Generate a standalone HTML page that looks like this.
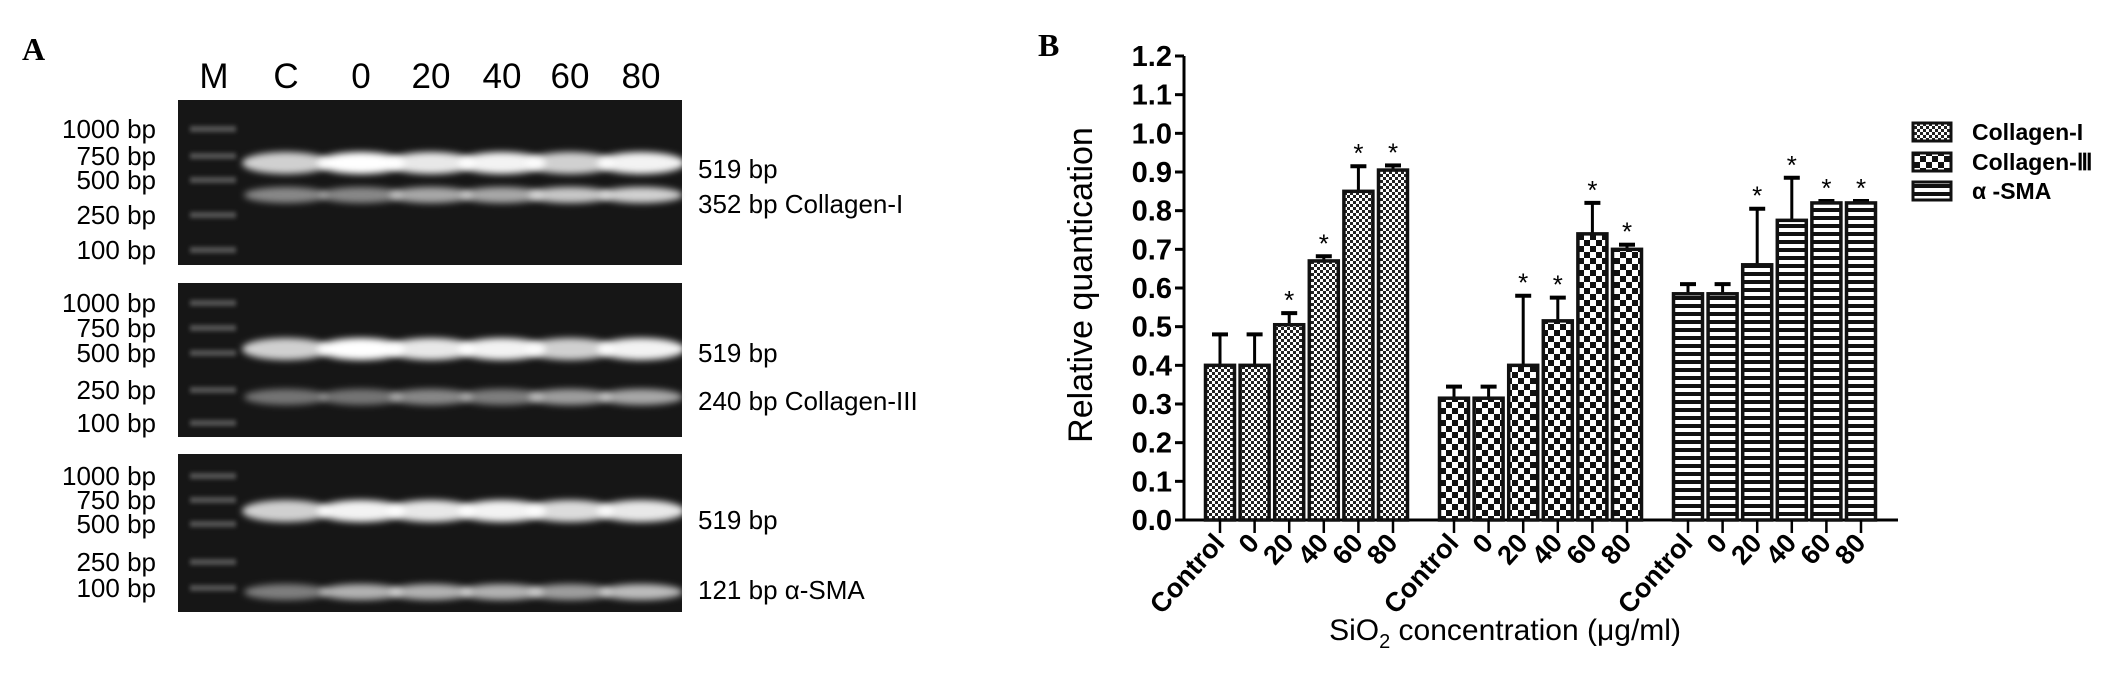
<!DOCTYPE html>
<html><head><meta charset="utf-8">
<style>
html,body{margin:0;padding:0;background:#fff;}
body{width:2126px;height:688px;overflow:hidden;position:relative;font-family:"Liberation Sans",sans-serif;}
</style></head>
<body>
<svg id="fig" width="2126" height="688" viewBox="0 0 2126 688" xmlns="http://www.w3.org/2000/svg">
<defs>
<pattern id="p1" width="6" height="6" patternUnits="userSpaceOnUse"><rect width="6" height="6" fill="#fff"/><rect width="3" height="3" fill="#222"/><rect x="3" y="3" width="3" height="3" fill="#222"/></pattern>
<pattern id="p2" width="12" height="12" patternUnits="userSpaceOnUse"><rect width="12" height="12" fill="#fff"/><rect width="6" height="6" fill="#111"/><rect x="6" y="6" width="6" height="6" fill="#111"/></pattern>
<pattern id="p3" width="8" height="8" patternUnits="userSpaceOnUse"><rect width="8" height="8" fill="#fff"/><rect width="8" height="4" fill="#111"/></pattern>
<filter id="blur" x="-30%" y="-80%" width="160%" height="260%"><feGaussianBlur stdDeviation="3.5"/></filter>
<filter id="blur2" x="-30%" y="-80%" width="160%" height="260%"><feGaussianBlur stdDeviation="2"/></filter>
</defs>
<g id="panelA"></g>
<g id="panelB"></g>
</svg>
<script>
const NS="http://www.w3.org/2000/svg";
function mk(parent,tag,attrs,text){const e=document.createElementNS(NS,tag);for(const k in attrs)e.setAttribute(k,attrs[k]);if(text!==undefined)e.textContent=text;parent.appendChild(e);return e;}

/* ---------- Panel A: gels ---------- */
const A=document.getElementById('panelA');
const laneNames=["M","C","0","20","40","60","80"];
const laneX=[214,286,361,431,502,570,641];
const markerLabels=["1000 bp","750 bp","500 bp","250 bp","100 bp"];
const gels=[
 {top:100,bot:265,ladderY:[129,156,180,215,250],up:163,low:195,lowInt:[0.55,0.55,0.7,0.7,0.85,0.9],upInt:[0.8,1,0.9,0.95,0.8,0.95],r1:"519 bp",r2:"352 bp Collagen-I",r1y:169,r2y:204},
 {top:283,bot:437,ladderY:[303,328,353,390,423],up:349,low:397,lowInt:[0.45,0.45,0.55,0.5,0.65,0.7],upInt:[0.8,1,0.9,0.95,0.8,0.95],r1:"519 bp",r2:"240 bp Collagen-III",r1y:353,r2y:401},
 {top:454,bot:612,ladderY:[476,500,524,562,588],up:511,low:592,lowInt:[0.5,0.75,0.75,0.75,0.65,0.8],upInt:[0.8,0.95,0.9,0.95,0.85,0.9],r1:"519 bp",r2:"121 bp α-SMA",r1y:520,r2y:590}
];
let t=mk(A,'text',{x:22,y:60,'font-family':'Liberation Serif','font-weight':'bold','font-size':32});t.textContent="A";

laneNames.forEach((n,i)=>{const e=mk(A,'text',{x:laneX[i],y:88,'text-anchor':'middle','font-size':35},n);
 
 });
gels.forEach((g,gi)=>{
 const grp=mk(A,'g',{});
 
 
 mk(grp,'rect',{x:178,y:g.top,width:504,height:g.bot-g.top,fill:'#161616'});
 g.ladderY.forEach(y=>mk(grp,'rect',{x:190,y:y-3,width:46,height:6,fill:'#555',filter:'url(#blur2)'}));
 for(let i=1;i<7;i++){
  mk(grp,'ellipse',{cx:laneX[i],cy:g.up,rx:44,ry:11,fill:`rgba(255,255,255,${g.upInt[i-1]})`,filter:'url(#blur)'});
  mk(grp,'ellipse',{cx:laneX[i],cy:g.low,rx:42,ry:8,fill:`rgba(230,230,230,${g.lowInt[i-1]})`,filter:'url(#blur)'});
 }
 g.ladderY.forEach((y,k)=>{const e=mk(A,'text',{x:156,y:y+9,'text-anchor':'end','font-size':26},markerLabels[k]);
  
  });
 const a=mk(A,'text',{x:698,y:g.r1y+9,'font-size':26},g.r1);
 
 
 const b=mk(A,'text',{x:698,y:g.r2y+9,'font-size':26},g.r2);
 
 
});

/* ---------- Panel B: bar chart ---------- */
const categories=["Control","0","20","40","60","80"];
const seriesNames=["Collagen-I","Collagen-Ⅲ","α -SMA"];
const collagen1=[0.40,0.40,0.505,0.67,0.85,0.905];
const collagen1Err=[0.08,0.08,0.03,0.012,0.065,0.012];
const collagen3=[0.315,0.315,0.40,0.515,0.74,0.70];
const collagen3Err=[0.03,0.03,0.18,0.06,0.08,0.012];
const sma=[0.585,0.585,0.66,0.775,0.82,0.82];
const smaErr=[0.025,0.025,0.145,0.11,0.005,0.005];
const stars=[[false,false,true,true,true,true],[false,false,true,true,true,true],[false,false,true,true,true,true]];
const yTicks=[0,0.1,0.2,0.3,0.4,0.5,0.6,0.7,0.8,0.9,1.0,1.1,1.2];

const B=document.getElementById('panelB');
const y0=520,y1=56,yMax=1.2,axX=1184;
const yS=v=>y0-(v/yMax)*(y0-y1);
const groupStart=1220,groupStep=234,barStep=34.6,barW=29;
const xS=(g,i)=>groupStart+g*groupStep+i*barStep;
const fills=['url(#p1)','url(#p2)','url(#p3)'];
const vals=[collagen1,collagen3,sma],errs=[collagen1Err,collagen3Err,smaErr];

t=mk(B,'text',{x:1038,y:56,'font-family':'Liberation Serif','font-weight':'bold','font-size':32},"B");


const ya=mk(B,'line',{x1:axX,y1:y1,x2:axX,y2:y0+1,stroke:'#000','stroke-width':3});

yTicks.forEach(v=>{
 mk(B,'line',{x1:axX-9,y1:yS(v),x2:axX,y2:yS(v),stroke:'#000','stroke-width':3});
 const e=mk(B,'text',{x:axX-12,y:yS(v)+10,'text-anchor':'end','font-size':29,'font-weight':'bold'},v.toFixed(1));
 
 
});
const xa=mk(B,'line',{x1:axX,y1:y0,x2:1898,y2:y0,stroke:'#000','stroke-width':3});


for(let g=0;g<3;g++){
 for(let i=0;i<6;i++){
  const cx=xS(g,i),v=vals[g][i],e=errs[g][i];
  const top=yS(v),et=yS(v+e);
  const el=mk(B,'line',{x1:cx,y1:top,x2:cx,y2:et,stroke:'#000','stroke-width':3});
  
  
  mk(B,'line',{x1:cx-8,y1:et,x2:cx+8,y2:et,stroke:'#000','stroke-width':4});
  const r=mk(B,'rect',{x:cx-barW/2,y:top,width:barW,height:y0-top,fill:fills[g],stroke:'#111','stroke-width':3.5});
  
  
  if(stars[g][i]){const s=mk(B,'text',{x:cx,y:et-4,'text-anchor':'middle','font-size':26},"*");
   
   }
  mk(B,'line',{x1:cx,y1:y0,x2:cx,y2:y0+13,stroke:'#000','stroke-width':2.5});
  const lx=cx+6,ly=y0+24;
  const l=mk(B,'text',{x:lx,y:ly,'text-anchor':'end','font-size':27,'font-weight':'bold',transform:`rotate(-48 ${lx} ${ly})`},categories[i]);
  
  
 }
}
t=mk(B,'text',{x:1092,y:285,'text-anchor':'middle','font-size':34,transform:'rotate(-90 1092 285)'},"Relative quantication");

t=mk(B,'text',{x:1505,y:640,'text-anchor':'middle','font-size':30});

t.innerHTML='SiO<tspan dy="8" font-size="20">2</tspan><tspan dy="-8"> concentration (μg/ml)</tspan>';

const legY=[132,162,191];
seriesNames.forEach((n,i)=>{
 const g=mk(B,'g',{});
 
 
 mk(g,'rect',{x:1913,y:legY[i]-9,width:38,height:18,fill:fills[i],stroke:'#111','stroke-width':3});
 mk(g,'text',{x:1972,y:legY[i]+8,'font-size':23,'font-weight':'bold'},n);
});
</script>
</body></html>
